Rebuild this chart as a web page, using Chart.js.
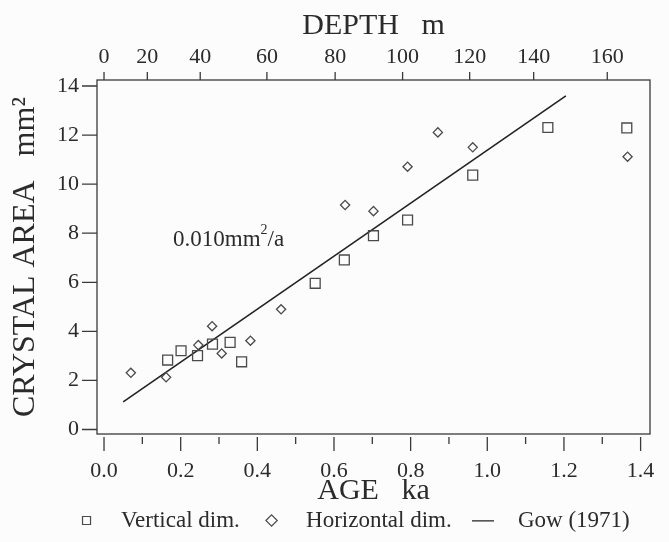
<!DOCTYPE html>
<html>
<head>
<meta charset="utf-8">
<script src="https://cdn.jsdelivr.net/npm/chart.js@4"></script>
<style>
  html, body { margin: 0; padding: 0; background: #fcfcfc; }
  #wrap { width: 669px; height: 542px; }
</style>
</head>
<body>
<div id="wrap"><canvas id="chart" width="669" height="542"></canvas></div>
<script>
// Valori (età in ka, area in mm²)
const vertAge  = [0.166, 0.201, 0.244, 0.283, 0.329, 0.359, 0.551, 0.627, 0.703, 0.792, 0.962, 1.158, 1.364];
const vertArea = [2.83, 3.21, 3.01, 3.48, 3.55, 2.76, 5.96, 6.91, 7.90, 8.54, 10.37, 12.31, 12.29];

const horAge  = [0.070, 0.162, 0.246, 0.282, 0.307, 0.382, 0.462, 0.629, 0.703, 0.792, 0.871, 0.962, 1.366];
const horArea = [2.31, 2.13, 3.44, 4.21, 3.10, 3.62, 4.90, 9.15, 8.90, 10.71, 12.11, 11.50, 11.12];

// Retta di Gow (1971): estremi
const gowAge  = [0.050, 1.205];
const gowArea = [1.13, 13.60];

// Asse superiore: profondità e posizione in età
const depthLabels = ['0', '20', '40', '60', '80', '100', '120', '140', '160'];
const depthAge    = [0, 0.113, 0.251, 0.425, 0.603, 0.779, 0.954, 1.121, 1.313];

const FONT = "'Liberation Serif', 'DejaVu Serif', serif";
const INK = '#2b2b2b';

function pts(xs, ys) {
    return xs.map((x, i) => ({ x: x, y: ys[i] }));
}

// simbolo della retta nella legenda
const lineIcon = document.createElement('canvas');
lineIcon.width = 22;
lineIcon.height = 2;
const lctx = lineIcon.getContext('2d');
lctx.fillStyle = '#222';
lctx.fillRect(0, 0, 22, 1.5);

// Cornice e tacche disegnate dalle scale
const frameTicks = {
    id: 'frameTicks',
    afterDraw(chart) {
        const { ctx, chartArea: a, scales } = chart;
        ctx.save();
        ctx.strokeStyle = '#3a3a3a';
        ctx.lineWidth = 1.3;
        ctx.strokeRect(a.left, a.top, a.right - a.left, a.bottom - a.top);
        ctx.beginPath();
        scales.x.ticks.forEach(t => {
            const px = scales.x.getPixelForValue(t.value);
            const major = Math.round(t.value * 10) % 2 === 0;
            ctx.moveTo(px, a.bottom + 3);
            ctx.lineTo(px, a.bottom + (major ? 17 : 10));
        });
        scales.x2.ticks.forEach(t => {
            const px = scales.x2.getPixelForValue(t.value);
            ctx.moveTo(px, a.top);
            ctx.lineTo(px, a.top - 8);
        });
        scales.y.ticks.forEach(t => {
            const py = scales.y.getPixelForValue(t.value);
            ctx.moveTo(a.left, py);
            ctx.lineTo(a.left - 15, py);
        });
        ctx.stroke();

        // etichetta della pendenza
        const x0 = scales.x.getPixelForValue(0.180);
        const y0 = scales.y.getPixelForValue(7.72);
        ctx.fillStyle = INK;
        ctx.textBaseline = 'middle';
        ctx.font = '23px ' + FONT;
        const base = '0.010mm';
        ctx.fillText(base, x0, y0);
        let w = ctx.measureText(base).width;
        ctx.font = '14px ' + FONT;
        ctx.fillText('2', x0 + w, y0 - 10);
        w += ctx.measureText('2').width;
        ctx.font = '23px ' + FONT;
        ctx.fillText('/a', x0 + w, y0);
        ctx.restore();
    }
};

new Chart(document.getElementById('chart'), {
    type: 'scatter',
    data: {
        datasets: [
            {
                label: 'Vertical dim.',
                data: pts(vertAge, vertArea),
                pointStyle: 'rect',
                pointRadius: 7,
                borderColor: '#4a4a4a',
                backgroundColor: 'rgba(0,0,0,0)',
                borderWidth: 1.3
            },
            {
                label: 'Horizontal dim.',
                data: pts(horAge, horArea),
                pointStyle: 'rectRot',
                pointRadius: 4.6,
                borderColor: '#4a4a4a',
                backgroundColor: 'rgba(0,0,0,0)',
                borderWidth: 1.3
            },
            {
                label: 'Gow (1971)',
                type: 'line',
                data: pts(gowAge, gowArea),
                pointStyle: 'line',
                pointRadius: 0,
                borderColor: '#222',
                backgroundColor: '#222',
                borderWidth: 1.6
            }
        ]
    },
    options: {
        responsive: false,
        animation: false,
        layout: { padding: { left: 0, right: 19, top: 0, bottom: 0 } },
        plugins: {
            tooltip: { enabled: false },
            legend: {
                position: 'bottom',
                align: 'end',
                labels: {
                    usePointStyle: true,
                    boxHeight: 8,
                    padding: 3,
                    color: INK,
                    font: { family: FONT, size: 23 },
                    generateLabels: chart => {
                        const items = Chart.defaults.plugins.legend.labels.generateLabels(chart);
                        items.forEach(it => {
                            it.text = '  ' + it.text + '   ';
                            it.lineWidth = 1.2;
                            if (it.datasetIndex === 2) it.pointStyle = lineIcon;
                        });
                        return items;
                    }
                }
            }
        },
        scales: {
            x: {
                type: 'linear',
                position: 'bottom',
                min: -0.0183,
                max: 1.4245,
                grid: { display: false, drawTicks: false },
                border: { display: false },
                ticks: {
                    stepSize: 0.1,
                    includeBounds: false,
                    autoSkip: false,
                    maxRotation: 0,
                    padding: 24,
                    color: INK,
                    font: { family: FONT, size: 22 },
                    callback: v => (Math.round(v * 10) % 2 === 0 ? v.toFixed(1) : '')
                },
                title: {
                    display: true,
                    text: 'AGE   ka',
                    color: INK,
                    font: { family: FONT, size: 30, lineHeight: 1.0 },
                    padding: { top: 0, bottom: 0 }
                },
                afterFit: s => { s.height = 72; s.paddingLeft = 0; s.paddingRight = 0; }
            },
            x2: {
                type: 'linear',
                position: 'top',
                min: -0.0183,
                max: 1.4245,
                grid: { display: false, drawTicks: false },
                border: { display: false },
                afterBuildTicks: s => { s.ticks = depthAge.map(v => ({ value: v })); },
                ticks: {
                    autoSkip: false,
                    maxRotation: 0,
                    padding: 10,
                    color: INK,
                    font: { family: FONT, size: 22 },
                    callback: (v, i) => depthLabels[i]
                },
                title: {
                    display: true,
                    text: 'DEPTH   m',
                    color: INK,
                    font: { family: FONT, size: 30 },
                    padding: { top: 8, bottom: 0 }
                },
                afterFit: s => { s.height = 80; s.paddingLeft = 0; s.paddingRight = 0; }
            },
            y: {
                type: 'linear',
                min: -0.183,
                max: 14.245,
                grid: { display: false, drawTicks: false },
                border: { display: false },
                ticks: {
                    stepSize: 2,
                    includeBounds: false,
                    padding: 18,
                    color: INK,
                    font: { family: FONT, size: 22 }
                },
                title: {
                    display: true,
                    text: 'CRYSTAL AREA   mm²',
                    color: INK,
                    font: { family: FONT, size: 32 },
                    padding: { top: 6, bottom: 0 }
                },
                afterFit: s => { s.width = 97; }
            }
        }
    },
    plugins: [frameTicks]
});
</script>
</body>
</html>
